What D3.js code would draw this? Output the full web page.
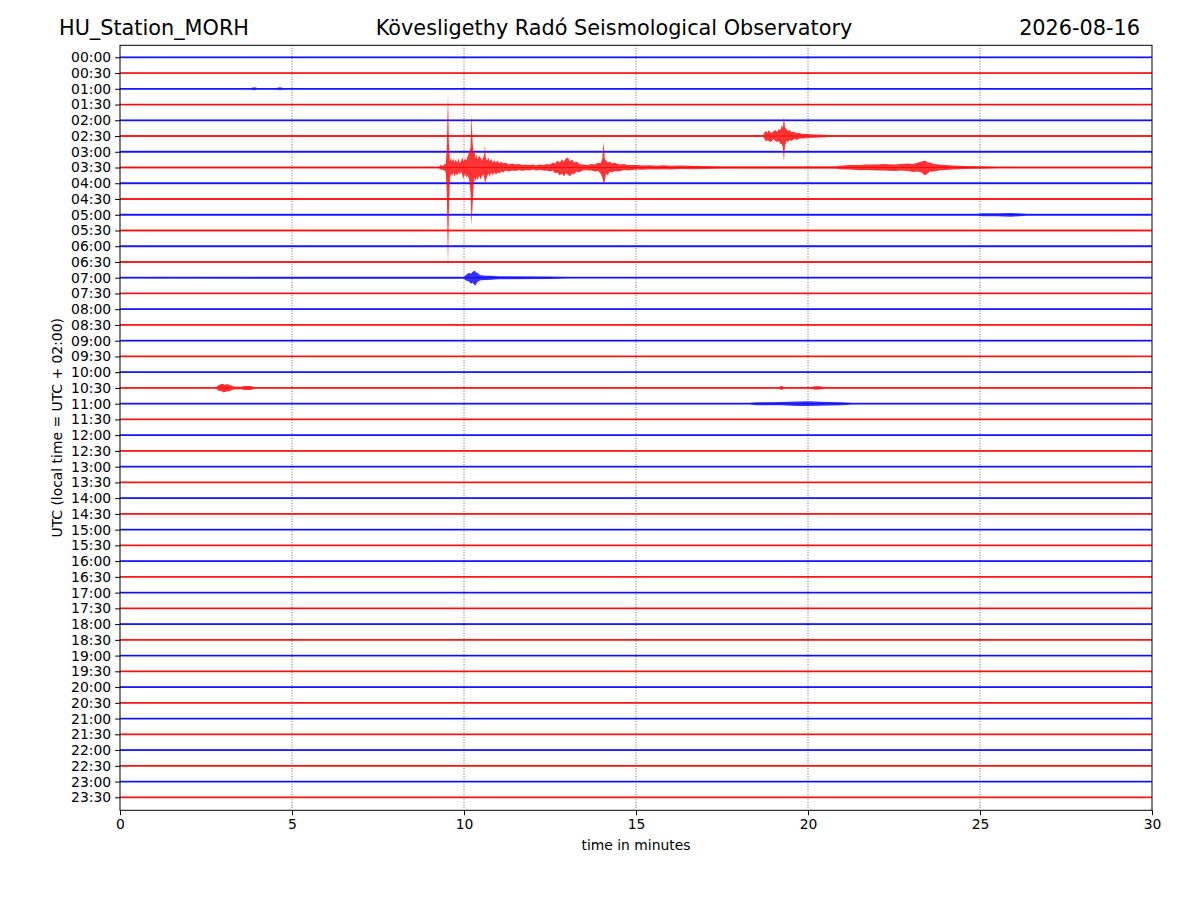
<!DOCTYPE html>
<html><head><meta charset="utf-8">
<script src="https://cdn.jsdelivr.net/npm/d3@7"></script>
<style>
html,body{margin:0;padding:0;background:#fff;}
svg text{font-family:"DejaVu Sans",sans-serif;fill:#000;}
</style></head>
<body>
<svg id="chart" width="1200" height="900"></svg>
<script>
// ---------- data ----------
const stationTitle = "HU_Station_MORH";
const centerTitle = "Kövesligethy Radó Seismological Observatory";
const dateTitle = "2026-08-16";
const xLabel = "time in minutes";
const yLabel = "UTC (local time = UTC + 02:00)";

const rowLabels = ["00:00","00:30","01:00","01:30","02:00","02:30","03:00","03:30",
  "04:00","04:30","05:00","05:30","06:00","06:30","07:00","07:30",
  "08:00","08:30","09:00","09:30","10:00","10:30","11:00","11:30",
  "12:00","12:30","13:00","13:30","14:00","14:30","15:00","15:30",
  "16:00","16:30","17:00","17:30","18:00","18:30","19:00","19:30",
  "20:00","20:30","21:00","21:30","22:00","22:30","23:00","23:30"];
const rowColors = ["#0000ff","#ff0000"];
const minuteTicks = [0,5,10,15,20,25,30];
const gridMinutes = [5,10,15,20,25];

const quietAmp = 0.9; // background noise half-amplitude (counts)
// envelopes: [minute, upward amplitude, downward amplitude] in counts
const trace0100 = [[0,0.9,0.9],[3.8,0.9,0.9],[3.9,1.5,1.4],[4.0,0.9,0.9],[4.55,0.9,0.9],[4.65,1.5,1.4],[4.75,0.9,0.9],[30,0.9,0.9]];
const trace0230 = [[0,0.9,0.9],[18.7,0.9,0.9],[18.74,4,3],[18.78,5,6],[18.82,3,4],[18.86,6,5],[18.9,4,6],
  [18.95,3,5],[19.0,5,3],[19.05,6,5],[19.1,4,6],[19.15,7,5],[19.2,6,8],[19.24,11,8],[19.27,8,12],
  [19.30,19,25],[19.33,9,10],[19.37,7,5],[19.42,5,6],[19.47,6,4],[19.52,4,5],[19.6,4,3],[19.68,3,4],
  [19.75,3,2.5],[19.85,2,2.5],[20.0,2,2],[20.15,1.6,1.8],[20.35,1.5,1.5],[20.6,0.9,0.9],[30,0.9,0.9]];
const trace0330 = [[0,0.9,0.9],[9.28,1,1],[9.33,3,2.5],[9.37,1.5,2],[9.40,2,3],[9.44,4,3],[9.47,3,5],
  [9.50,20,25],[9.535,74,100],[9.56,25,45],[9.59,6,12],[9.62,10,6],[9.65,6,9],[9.69,9,5],[9.72,5,9],
  [9.76,8,6],[9.80,5,8],[9.84,9,5],[9.88,4,7],[9.92,7,4],[9.95,10,7],[9.99,6,11],[10.03,9,6],
  [10.07,7,10],[10.11,12,8],[10.15,15,12],[10.19,20,25],[10.22,54,58],[10.25,25,38],[10.28,14,18],
  [10.31,16,10],[10.34,9,14],[10.37,13,9],[10.40,8,13],[10.44,12,8],[10.48,10,12],[10.52,7,9],
  [10.56,10,7],[10.59,14,10],[10.61,23,16],[10.63,10,14],[10.67,7,9],[10.71,10,6],[10.75,6,9],
  [10.79,9,5],[10.83,5,8],[10.88,7,5],[10.93,5,7],[10.98,7,5],[11.03,4,6],[11.08,6,4],[11.14,4,5],
  [11.2,5,3],[11.3,3,4],[11.4,4,3],[11.5,3,3.5],[11.6,3.5,2.5],[11.7,2.5,3.5],[11.8,3,2.5],
  [11.9,2.5,3],[12.0,3,2],[12.1,2,3],[12.2,3,2.5],[12.3,2.5,3],[12.4,3.5,3],[12.5,3,4],[12.58,5,3],
  [12.65,4,6],[12.72,7,5],[12.78,5,8],[12.85,8,6],[12.9,6,9],[12.96,9,6],[13.02,10,7],[13.08,6,9],
  [13.14,8,6],[13.2,5,7],[13.27,6,4],[13.34,4,5],[13.42,3,3.5],[13.5,3,2.5],[13.6,2.5,3],
  [13.7,3.5,3],[13.8,3,4],[13.9,5,3.5],[13.97,4,6],[14.02,9,10],[14.06,26,16],[14.09,9,14],
  [14.13,7,6],[14.18,5,8],[14.24,6,4],[14.3,4,5],[14.38,5,3.5],[14.46,3.5,4],[14.55,3,3.5],
  [14.65,3.5,2.5],[14.75,2.5,3],[14.9,2.5,2.5],[15.05,2.5,2],[15.2,2,2.2],[15.4,2.2,1.8],
  [15.6,1.8,2],[15.8,2.2,1.8],[16.0,1.8,2],[16.3,2,1.6],[16.6,1.7,1.8],[17.0,1.6,1.5],
  [17.5,1.2,1.2],[20.8,1.2,1.2],[21.0,2,2],[21.2,2.5,2],[21.5,2.5,2.8],[21.7,3,2.5],[22.0,3,3],
  [22.2,3.5,3],[22.5,3,3.5],[22.7,3.5,3],[22.9,4,3.5],[23.05,3.5,4.5],[23.2,5,4],[23.3,6,5],
  [23.4,7,8],[23.48,5,6],[23.55,5,4],[23.65,3.5,4],[23.8,3,3],[24.0,2.5,2.5],[24.2,2,2],
  [24.6,1.5,1.6],[25.2,1.3,1.3],[25.5,0.9,0.9],[30,0.9,0.9]];
const trace0500 = [[0,0.9,0.9],[24.95,0.9,0.9],[25.05,1.5,1.5],[25.5,1.6,1.5],[25.9,1.8,1.9],[26.25,1.3,1.3],[26.35,0.9,0.9],[30,0.9,0.9]];
const trace0700 = [[0,0.9,0.9],[10.0,1,1],[10.06,3,3],[10.1,4,3],[10.15,5,4],[10.2,4,6],[10.25,6,5],
  [10.32,7,8],[10.36,5,6],[10.40,5,4],[10.45,3,3],[10.5,2.5,2.5],[10.65,2,2.2],[10.8,2,2],
  [11.0,1.5,1.5],[12.5,1.2,1.2],[13,0.9,0.9],[30,0.9,0.9]];
const trace1030 = [[0,0.9,0.9],[2.8,0.9,0.9],[2.87,3,3],[2.95,4,3],[3.0,4,4.5],[3.05,3,4],[3.1,4,3.5],
  [3.2,3,3],[3.3,1.5,1.5],[3.5,1.2,1.2],[3.62,2,2],[3.8,2,2],[3.9,0.9,0.9],[19.15,0.9,0.9],
  [19.24,2.2,2],[19.3,0.9,0.9],[20.1,0.9,0.9],[20.2,1.8,1.8],[20.35,1.6,1.6],[20.45,0.9,0.9],[30,0.9,0.9]];
const trace1100 = [[0,0.9,0.9],[18.3,0.9,0.9],[18.5,1.5,1.5],[19.2,1.6,1.6],[19.7,2.2,2.2],[20.0,2.4,2.2],
  [20.35,2,2],[21.0,1.5,1.5],[21.3,0.9,0.9],[30,0.9,0.9]];
const eventTraces = [
  {row:2, env:trace0100},{row:5, env:trace0230},{row:10, env:trace0500},
  {row:14, env:trace0700},{row:21, env:trace1030},{row:22, env:trace1100},{row:7, env:trace0330}
];

// ---------- layout ----------
const svg = d3.select("#chart");
const x = d3.scaleLinear().domain([0,30]).range([120,1152]);
const y = d3.scaleLinear().domain([-0.762,47.826]).range([45.3,810.3]);
const rowStep = y(1) - y(0);
const amp = d3.scaleLinear().domain([0,15.745]).range([0,rowStep]); // counts -> px

// grid
svg.append("g").selectAll("line").data(gridMinutes).join("line")
  .attr("x1",d=>x(d)).attr("x2",d=>x(d)).attr("y1",y.range()[0]).attr("y2",y.range()[1])
  .attr("stroke","#444").attr("stroke-width",0.8).attr("stroke-dasharray","1,1.6");

// traces
const traceG = svg.append("g");
const eventMap = new Map(eventTraces.map(d=>[d.row,d.env]));
const quietEnv = [[0,quietAmp,quietAmp],[30,quietAmp,quietAmp]];
const order = d3.range(rowLabels.length).filter(r=>!eventMap.has(r)).concat(eventTraces.map(d=>d.row));
order.forEach(r=>{
  const env = eventMap.get(r) || quietEnv;
  const base = y(r);
  const color = rowColors[r % 2];
  const area = d3.area()
    .x(d=>x(d[0]))
    .y0(d=>base + amp(d[2]))
    .y1(d=>base - amp(d[1]));
  traceG.append("path").datum(env).attr("d",area)
    .attr("fill",color).attr("fill-opacity",0.8).attr("stroke","none");
  traceG.append("line").attr("x1",x(0)).attr("x2",x(30)).attr("y1",base).attr("y2",base)
    .attr("stroke",color).attr("stroke-width",0.9).attr("stroke-opacity",0.9);
});

// frame
svg.append("rect").attr("x",x(0)).attr("y",y.range()[0])
  .attr("width",x(30)-x(0)).attr("height",y.range()[1]-y.range()[0])
  .attr("fill","none").attr("stroke","#000").attr("stroke-width",1);

// axes
const xAxis = d3.axisBottom(x).tickValues(minuteTicks).tickFormat(d3.format("d")).tickSize(4.9).tickPadding(4);
const gx = svg.append("g").attr("transform",`translate(0,${y.range()[1]})`).call(xAxis);
gx.select(".domain").remove();
gx.selectAll("text").attr("font-size","13.9px").attr("font-family","DejaVu Sans");

const yAxis = d3.axisLeft(y).tickValues(d3.range(rowLabels.length)).tickFormat(i=>rowLabels[i]).tickSize(4.9).tickPadding(4);
const gy = svg.append("g").attr("transform",`translate(${x(0)},0)`).call(yAxis);
gy.select(".domain").remove();
gy.selectAll("text").attr("font-size","13.9px").attr("font-family","DejaVu Sans");

// labels
svg.append("text").attr("x",636).attr("y",850).attr("text-anchor","middle")
  .attr("font-size","13.9px").text(xLabel);
svg.append("text").attr("transform","translate(62,427.8) rotate(-90)").attr("text-anchor","middle")
  .attr("font-size","13.9px").text(yLabel);

// titles
svg.append("text").attr("x",59).attr("y",35).attr("font-size","20.8px").text(stationTitle);
svg.append("text").attr("x",614).attr("y",35).attr("text-anchor","middle").attr("font-size","20.8px").text(centerTitle);
svg.append("text").attr("x",1140).attr("y",35).attr("text-anchor","end").attr("font-size","20.8px").text(dateTitle);
</script>
</body></html>
